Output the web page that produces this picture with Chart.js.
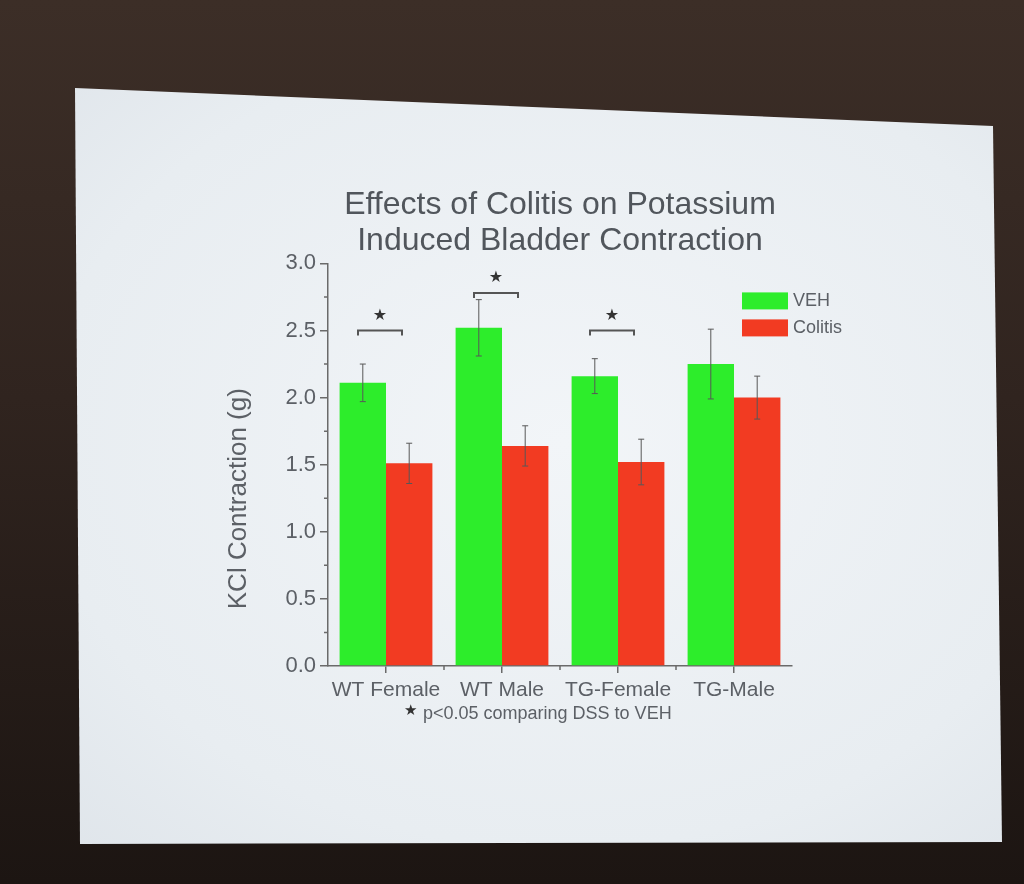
<!DOCTYPE html>
<html>
<head>
<meta charset="utf-8">
<script src="https://cdn.jsdelivr.net/npm/chart.js@4.4.1/dist/chart.umd.min.js"></script>
<style>
html, body { margin: 0; padding: 0; width: 1024px; height: 884px; overflow: hidden; }
body { position: relative; background: linear-gradient(180deg, #3c2e27 0%, #30241f 45%, #1c1512 100%); }
#slide {
    position: absolute; left: 0; top: 0; width: 1024px; height: 884px;
    background: radial-gradient(ellipse at 55% 50%, #f2f5f8 0%, #e8edf1 65%, #dce2e8 100%);
    clip-path: polygon(75px 88px, 993px 126px, 1002px 842px, 80px 844px);
}
#chart { position: absolute; left: 0; top: 0; }
</style>
</head>
<body>
<div id="slide"></div>
<canvas id="chart" width="1024" height="884"></canvas>
<script>
const groups = ['WT Female', 'WT Male', 'TG-Female', 'TG-Male'];
const vehValues = [2.11, 2.52, 2.16, 2.25];
const vehErrors = [0.14, 0.21, 0.13, 0.26];
const colitisValues = [1.51, 1.64, 1.52, 2.0];
const colitisErrors = [0.15, 0.15, 0.17, 0.16];
// height of the significance bracket per group (null = none)
const sigLevels = [2.5, 2.78, 2.5, null];
const yTitle = 'KCl Contraction (g)';
const footnote = 'p<0.05 comparing DSS to VEH';

const textColor = '#5c6066';
const axisColor = '#6a6a6a';

// error bars, brackets, minor ticks, legend, y title and footnote
const extras = {
    id: 'extras',
    afterDatasetsDraw(chart) {
        const ctx = chart.ctx;
        const x = chart.scales.x, y = chart.scales.y;
        const area = chart.chartArea;
        ctx.save();

        ctx.strokeStyle = '#585858';
        ctx.lineWidth = 1;
        chart.data.datasets.forEach((ds, i) => {
            chart.getDatasetMeta(i).data.forEach((bar, j) => {
                const top = y.getPixelForValue(ds.data[j] + ds.errors[j]);
                const bot = y.getPixelForValue(ds.data[j] - ds.errors[j]);
                ctx.beginPath();
                ctx.moveTo(bar.x, top); ctx.lineTo(bar.x, bot);
                ctx.moveTo(bar.x - 3, top); ctx.lineTo(bar.x + 3, top);
                ctx.moveTo(bar.x - 3, bot); ctx.lineTo(bar.x + 3, bot);
                ctx.stroke();
            });
        });

        // significance brackets
        ctx.strokeStyle = '#555';
        ctx.lineWidth = 2;
        ctx.fillStyle = '#333';
        ctx.font = '16px "DejaVu Sans"';
        ctx.textAlign = 'center';
        ctx.textBaseline = 'middle';
        sigLevels.forEach((lvl, i) => {
            if (lvl === null) return;
            const cx = x.getPixelForValue(i) - 6;
            const yy = y.getPixelForValue(lvl);
            ctx.beginPath();
            ctx.moveTo(cx - 22, yy + 5);
            ctx.lineTo(cx - 22, yy);
            ctx.lineTo(cx + 22, yy);
            ctx.lineTo(cx + 22, yy + 5);
            ctx.stroke();
            ctx.fillText('\u2605', cx, yy - 15);
        });

        // minor ticks
        ctx.strokeStyle = axisColor;
        ctx.lineWidth = 1.5;
        ctx.beginPath();
        for (let v = 0.25; v < 3; v += 0.5) {
            const py = y.getPixelForValue(v);
            ctx.moveTo(area.left - 4, py); ctx.lineTo(area.left, py);
        }
        for (let i = 0; i < groups.length - 1; i++) {
            const px = (x.getPixelForValue(i) + x.getPixelForValue(i + 1)) / 2;
            ctx.moveTo(px, area.bottom); ctx.lineTo(px, area.bottom + 4);
        }
        ctx.stroke();

        // legend
        ctx.textAlign = 'left';
        ctx.font = '18px "Liberation Sans"';
        chart.data.datasets.forEach((ds, i) => {
            const ly = area.top + 29 + i * 27;
            ctx.fillStyle = ds.backgroundColor;
            ctx.fillRect(area.right - 50, ly, 46, 17);
            ctx.fillStyle = textColor;
            ctx.fillText(ds.label, area.right + 1, ly + 9);
        });

        // y axis title
        ctx.save();
        ctx.translate(area.left - 89, (area.top + area.bottom) / 2 + 34);
        ctx.rotate(-Math.PI / 2);
        ctx.textAlign = 'center';
        ctx.fillStyle = textColor;
        ctx.font = '26px "Liberation Sans"';
        ctx.fillText(yTitle, 0, 0);
        ctx.restore();

        // footnote
        ctx.fillStyle = '#333';
        ctx.font = '15px "DejaVu Sans"';
        ctx.fillText('\u2605', area.left + 76, area.bottom + 45);
        ctx.fillStyle = textColor;
        ctx.font = '18px "Liberation Sans"';
        ctx.fillText(footnote, area.left + 95, area.bottom + 48);

        ctx.restore();
    }
};

new Chart(document.getElementById('chart').getContext('2d'), {
    type: 'bar',
    data: {
        labels: groups,
        datasets: [
            { label: 'VEH', data: vehValues, errors: vehErrors, backgroundColor: '#2ded2b', borderWidth: 0 },
            { label: 'Colitis', data: colitisValues, errors: colitisErrors, backgroundColor: '#f23b22', borderWidth: 0 }
        ]
    },
    options: {
        responsive: false,
        animation: false,
        events: [],
        categoryPercentage: 0.8,
        barPercentage: 1.0,
        layout: { padding: { left: 200, right: 232, top: 188, bottom: 168 } },
        scales: {
            x: {
                offset: true,
                grid: { drawOnChartArea: false, drawTicks: true, tickLength: 7, color: axisColor, lineWidth: 1.5, offset: false },
                border: { display: true, color: axisColor, width: 1.5 },
                ticks: { color: textColor, font: { family: 'Liberation Sans', size: 21 }, padding: 5, maxRotation: 0 },
                afterFit(s) { s.height = 50; }
            },
            y: {
                min: 0,
                max: 3,
                grid: { drawOnChartArea: false, drawTicks: true, tickLength: 8, color: axisColor, lineWidth: 1.5 },
                border: { display: true, color: axisColor, width: 1.5 },
                ticks: {
                    stepSize: 0.5,
                    color: textColor,
                    font: { family: 'Liberation Sans', size: 22 },
                    padding: 4,
                    callback: v => v.toFixed(1)
                },
                afterFit(s) { s.width = 128; }
            }
        },
        plugins: {
            legend: { display: false },
            tooltip: { enabled: false },
            title: {
                display: true,
                fullSize: false,
                text: ['Effects of Colitis on Potassium', 'Induced Bladder Contraction'],
                color: '#51565c',
                font: { family: 'Liberation Sans', size: 32, weight: 'normal', lineHeight: 1.1 },
                padding: { top: 0, bottom: 5 }
            }
        }
    },
    plugins: [extras]
});
</script>
</body>
</html>
